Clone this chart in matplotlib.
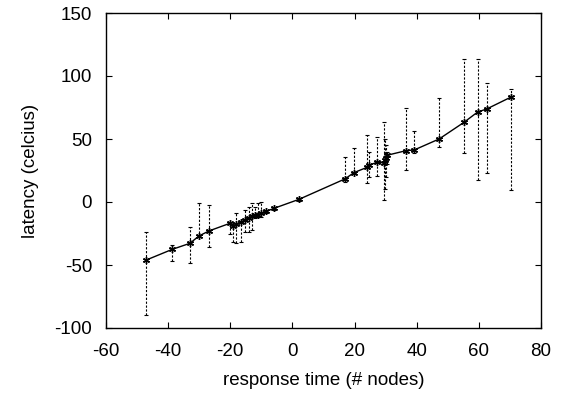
import matplotlib
matplotlib.use("Agg")
import matplotlib.pyplot as plt
import numpy as np

x = [-47.0, -38.7, -33.0, -30.1, -26.9, -20.1, -19.1, -18.0, -16.5, -15.3, -14.0, -13.0, -12.0, -11.0, -10.0, -8.5, -5.9,
     2.1, 16.9, 19.8, 24.0, 24.6, 27.1, 29.6, 29.9, 30.1, 30.3, 36.5, 39.2, 47.2, 55.2, 59.6, 62.5, 70.2]
y = [-46.0, -37.6, -32.8, -27.0, -23.0, -16.9, -19.0, -17.5, -16.0, -14.0, -12.5, -11.5, -10.5, -10.0, -9.0, -7.5, -5.0,
     2.1, 18.3, 23.3, 27.5, 29.0, 31.5, 31.0, 33.0, 35.0, 37.0, 40.7, 41.3, 50.0, 63.2, 71.4, 73.8, 83.1]
ylow = [-90, -47, -48.6, -27.5, -35.5, -25, -31.5, -32.8, -31.5, -23.6, -23.6, -22, -13, -12, -11.7, -9, -6,
        1, 16.1, 23, 14.8, 20, 20.6, 1.6, 10, 20, 30, 25.4, 38.7, 43.9, 38.7, 17.5, 23.3, 9.5]
yhigh = [-24, -34, -20, -1, -2.4, -15.6, -18.3, -9, -15, -6.3, -3.7, -1, -3.7, -1, 0, -6, -4,
         3, 35.5, 42.6, 53.2, 40, 51.3, 63.7, 50, 45, 40, 74.4, 56.6, 82.3, 113.2, 113.5, 94.7, 89.7]

xticks = [-60, -40, -20, 0, 20, 40, 60, 80]
yticks = [-100, -50, 0, 50, 100, 150]

plt.rcParams['font.family'] = ['Liberation Sans', 'DejaVu Sans']
plt.rcParams['axes.unicode_minus'] = False

fig = plt.figure(figsize=(5.61, 3.95), dpi=100)
ax = fig.add_axes([106/561, 1-328/395, (541-106)/561, (328-13)/395])

xa = np.array(x); ya = np.array(y)
err = [ya - np.array(ylow), np.array(yhigh) - ya]
eb = ax.errorbar(xa, ya, yerr=err, fmt='none', ecolor='black', elinewidth=0.8,
                 capsize=1.5, capthick=0.8)
for lc in eb[2]:
    lc.set_linestyle((0, (2, 1.5)))
ax.plot(xa, ya, color='black', lw=1.0, marker=(6, 2, 0), markersize=5, mew=1.0)

ax.set_xlim(-60, 80)
ax.set_ylim(-100, 150)
ax.set_xticks(xticks)
ax.set_yticks(yticks)
ax.tick_params(direction='in', length=4, width=0.8, top=True, right=True, labelsize=13.5)
ax.tick_params(axis='x', pad=10.5)
ax.tick_params(axis='y', pad=10)
for s in ax.spines.values():
    s.set_linewidth(1.0)
ax.set_xlabel('response time (# nodes)', fontsize=13.5, labelpad=9)
ax.set_ylabel('latency (celcius)', fontsize=13.5, labelpad=11)

fig.savefig('out.png', dpi=100)
